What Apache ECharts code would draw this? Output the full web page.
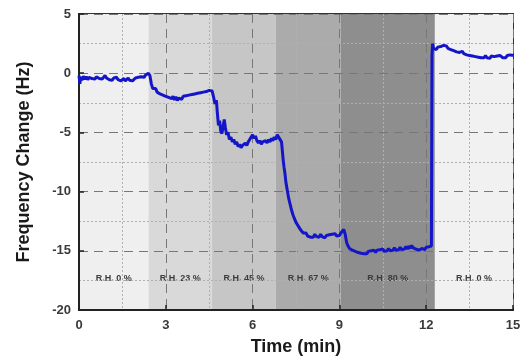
<!DOCTYPE html>
<html>
<head>
<meta charset="utf-8">
<script src="https://cdn.jsdelivr.net/npm/echarts@6/dist/echarts.min.js"></script>
<style>
  html, body { margin: 0; padding: 0; background: #fff; }
  #chart { width: 532px; height: 361px; }
</style>
</head>
<body>
<div id="chart"></div>
<script>
// time (min) of each reading
var times = [
  0.00, 0.03, 0.06, 0.10, 0.15, 0.20, 0.25, 0.30, 0.35, 0.40, 0.45, 0.50, 0.55, 0.60, 0.65, 0.70, 0.75, 0.80, 0.85, 0.90,
  0.95, 1.00, 1.05, 1.10, 1.15, 1.20, 1.25, 1.30, 1.35, 1.40, 1.45, 1.50, 1.55, 1.60, 1.65, 1.70, 1.75, 1.80, 1.85, 1.90,
  1.95, 2.00, 2.05, 2.10, 2.15, 2.20, 2.25, 2.30, 2.35, 2.40, 2.45, 2.50, 2.55, 2.60, 2.65, 2.70, 2.75, 2.80, 2.85, 2.90,
  2.95, 3.00, 3.05, 3.10, 3.15, 3.20, 3.25, 3.30, 3.35, 3.40, 3.45, 3.50, 3.55, 3.60, 3.65, 3.70, 3.75, 3.80, 3.85, 3.90,
  3.95, 4.00, 4.05, 4.10, 4.15, 4.20, 4.25, 4.30, 4.35, 4.40, 4.45, 4.50, 4.55, 4.60, 4.65, 4.70, 4.75, 4.78, 4.82, 4.86,
  4.90, 4.94, 4.98, 5.02, 5.06, 5.10, 5.15, 5.20, 5.25, 5.30, 5.35, 5.40, 5.45, 5.50, 5.55, 5.60, 5.65, 5.70, 5.75, 5.80,
  5.85, 5.90, 5.95, 6.00, 6.05, 6.10, 6.15, 6.20, 6.25, 6.30, 6.35, 6.40, 6.45, 6.50, 6.55, 6.60, 6.65, 6.70, 6.75, 6.80,
  6.85, 6.90, 6.95, 7.00, 7.03, 7.06, 7.09, 7.12, 7.15, 7.20, 7.25, 7.30, 7.35, 7.40, 7.45, 7.50, 7.55, 7.60, 7.65, 7.70,
  7.75, 7.80, 7.85, 7.90, 7.95, 8.00, 8.05, 8.10, 8.15, 8.20, 8.25, 8.30, 8.35, 8.40, 8.45, 8.50, 8.55, 8.60, 8.65, 8.70,
  8.75, 8.80, 8.85, 8.90, 8.95, 9.00, 9.05, 9.10, 9.15, 9.20, 9.25, 9.30, 9.35, 9.40, 9.45, 9.50, 9.55, 9.60, 9.65, 9.70,
  9.75, 9.80, 9.85, 9.90, 9.95, 10.00, 10.05, 10.10, 10.15, 10.20, 10.25, 10.30, 10.35, 10.40, 10.45, 10.50, 10.55, 10.60, 10.65, 10.70,
  10.75, 10.80, 10.85, 10.90, 10.95, 11.00, 11.05, 11.10, 11.15, 11.20, 11.25, 11.30, 11.35, 11.40, 11.45, 11.50, 11.55, 11.60, 11.65, 11.70,
  11.75, 11.80, 11.85, 11.90, 11.95, 12.00, 12.05, 12.10, 12.15, 12.18, 12.20, 12.22, 12.25, 12.30, 12.35, 12.40, 12.45, 12.50, 12.55, 12.60,
  12.65, 12.70, 12.75, 12.80, 12.85, 12.90, 12.95, 13.00, 13.05, 13.10, 13.15, 13.20, 13.25, 13.30, 13.35, 13.40, 13.45, 13.50, 13.55, 13.60,
  13.65, 13.70, 13.75, 13.80, 13.85, 13.90, 13.95, 14.00, 14.05, 14.10, 14.15, 14.20, 14.25, 14.30, 14.35, 14.40, 14.45, 14.50, 14.55, 14.60,
  14.65, 14.70, 14.75, 14.80, 14.85, 14.90, 14.95, 15.00
];

// frequency change (Hz)
var freq = [
  -0.2, -0.9, -0.3, -0.6, -0.25, -0.5, -0.3, -0.55, -0.35, -0.2, -0.45, -0.3, -0.5, -0.3, -0.25, -0.45, -0.3, -0.5, -0.35, -0.2,
  -0.4, -0.3, -0.55, -0.4, -0.6, -0.4, -0.55, -0.35, -0.55, -0.45, -0.65, -0.5, -0.45, -0.65, -0.5, -0.4, -0.6, -0.45, -0.65, -0.5,
  -0.4, -0.55, -0.35, -0.45, -0.3, -0.25, -0.35, -0.15, -0.1, 0.0, -0.2, -0.9, -1.3, -1.4, -1.3, -1.6, -1.5, -1.75, -1.6, -1.85,
  -1.7, -1.95, -1.8, -2.05, -1.9, -2.15, -1.95, -2.25, -2.0, -2.3, -2.1, -2.0, -2.2, -1.95, -2.1, -1.9, -2.05, -1.85, -2.0, -1.8,
  -1.95, -1.75, -1.9, -1.7, -1.85, -1.65, -1.8, -1.6, -1.75, -1.55, -1.65, -1.45, -1.35, -1.5, -2.0, -2.6, -2.3, -3.3, -4.4, -4.0,
  -4.9, -5.1, -4.5, -3.9, -4.6, -5.2, -5.0, -5.6, -5.4, -5.8, -5.6, -6.0, -5.8, -6.2, -6.0, -6.3, -6.1, -6.2, -5.9, -6.1,
  -5.8, -5.6, -5.4, -5.2, -5.5, -5.3, -5.7, -5.9, -5.7, -6.0, -5.8, -5.9, -5.7, -5.9, -5.6, -5.8, -5.5, -5.7, -5.4, -5.6,
  -5.2, -5.4, -5.3, -5.8, -6.6, -7.4, -8.0, -8.5, -9.2, -9.9, -10.6, -11.1, -11.6, -12.0, -12.3, -12.6, -12.8, -13.0, -13.2, -13.3,
  -13.5, -13.6, -13.5, -13.75, -13.6, -13.85, -13.7, -13.85, -13.6, -13.8, -13.65, -13.85, -13.6, -13.8, -13.7, -13.9, -13.7, -13.85, -13.65, -13.8,
  -13.6, -13.75, -13.55, -13.75, -13.6, -13.7, -13.5, -13.4, -13.2, -13.6, -14.3, -14.6, -14.8, -14.7, -14.95, -14.85, -15.05, -14.9, -15.15, -15.0,
  -15.2, -15.05, -15.25, -15.1, -15.25, -15.05, -15.2, -15.0, -15.15, -14.95, -15.15, -14.95, -15.1, -14.9, -15.05, -14.85, -15.05, -14.9, -15.0, -14.8,
  -15.0, -14.85, -14.95, -14.75, -14.95, -14.8, -14.9, -14.7, -14.9, -14.75, -14.85, -14.65, -14.85, -14.6, -14.8, -14.55, -14.75, -14.6, -14.85, -14.7,
  -14.95, -15.05, -14.8, -14.7, -14.9, -14.7, -14.85, -14.65, -14.75, -14.6, 1.5, 2.5, 2.1, 2.25, 2.0, 2.2, 2.05, 2.25, 2.1, 2.35,
  2.2, 2.3, 2.1, 2.2, 2.0, 2.1, 1.9, 2.0, 1.8, 1.9, 1.75, 1.7, 1.85, 1.65, 1.75, 1.55, 1.7, 1.5, 1.65, 1.45,
  1.6, 1.4, 1.55, 1.35, 1.5, 1.3, 1.45, 1.3, 1.5, 1.3, 1.4, 1.25, 1.45, 1.3, 1.4, 1.25, 1.45, 1.3, 1.5, 1.35,
  1.3, 1.45, 1.3, 1.5, 1.35, 1.55, 1.4, 1.5
];

// humidity steps: label, start, end (min)
var bandLabels = ["R.H. 0 %", "R.H. 23 %", "R.H. 45 %", "R.H. 67 %", "R.H. 80 %", "R.H. 0 %"];
var bandStarts = [0, 2.4, 4.6, 6.8, 9.05, 12.3];
var bandEnds = [2.4, 4.6, 6.8, 9.05, 12.3, 15];
var bandColors = ["#efefef", "#d9d9d9", "#c6c6c6", "#ababab", "#8e8e8e", "#f1f1f1"];

var lineData = times.map(function (t, i) { return [t, freq[i]]; });

var areas = bandLabels.map(function (name, i) {
  return [
    { name: name, xAxis: bandStarts[i], itemStyle: { color: bandColors[i] } },
    { xAxis: bandEnds[i] }
  ];
});

var chart = echarts.init(document.getElementById("chart"));

var tickLabel = {
  color: "#3a3a3a",
  fontFamily: "Liberation Sans, Arial, sans-serif",
  fontWeight: "bold",
  fontSize: 13
};

var titleFont = {
  color: "#1a1a1a",
  fontFamily: "Liberation Sans, Arial, sans-serif",
  fontWeight: "bold",
  fontSize: 18
};

var option = {
  animation: false,
  grid: {
    left: 79,
    right: 19,
    top: 14,
    bottom: 51,
    show: true,
    borderColor: "#333",
    borderWidth: 2
  },
  xAxis: {
    type: "value",
    min: 0,
    max: 15,
    interval: 3,
    z: 3,
    name: "Time (min)",
    nameLocation: "middle",
    nameGap: 28,
    nameTextStyle: titleFont,
    axisLine: { show: true, onZero: false, lineStyle: { color: "#222", width: 2 } },
    axisTick: { show: true, inside: true, length: 5, lineStyle: { color: "#222", width: 1.5 } },
    axisLabel: Object.assign({ margin: 9 }, tickLabel),
    splitLine: { show: true, lineStyle: { color: "#777", type: [9, 6], width: 1 } },
    minorTick: { show: false, splitNumber: 2 },
    minorSplitLine: { show: true, lineStyle: { color: "#b0b0b0", type: [2, 2], width: 1 } }
  },
  yAxis: {
    type: "value",
    min: -20,
    max: 5,
    interval: 5,
    z: 3,
    name: "Frequency Change (Hz)",
    nameLocation: "middle",
    nameGap: 46,
    nameTextStyle: titleFont,
    axisLine: { show: true, onZero: false, lineStyle: { color: "#222", width: 2 } },
    axisTick: { show: true, inside: true, length: 5, lineStyle: { color: "#222", width: 1.5 } },
    axisLabel: Object.assign({ margin: 8 }, tickLabel),
    splitLine: { show: true, lineStyle: { color: "#777", type: [9, 6], width: 1 } },
    minorTick: { show: false, splitNumber: 2 },
    minorSplitLine: { show: true, lineStyle: { color: "#b0b0b0", type: [2, 2], width: 1 } }
  },
  series: [
    {
      name: "bands",
      type: "line",
      data: [],
      z: 1,
      silent: true,
      markArea: {
        silent: true,
        label: {
          show: true,
          position: "insideBottom",
          distance: 27,
          color: "#3c3c3c",
          fontFamily: "Liberation Sans, Arial, sans-serif",
          fontWeight: "bold",
          fontSize: 9
        },
        data: areas
      }
    },
    {
      name: "frequency",
      type: "line",
      data: lineData,
      z: 5,
      showSymbol: false,
      symbol: "none",
      lineStyle: { color: "#1414c8", width: 3 }
    }
  ]
};

chart.setOption(option);
</script>
</body>
</html>
